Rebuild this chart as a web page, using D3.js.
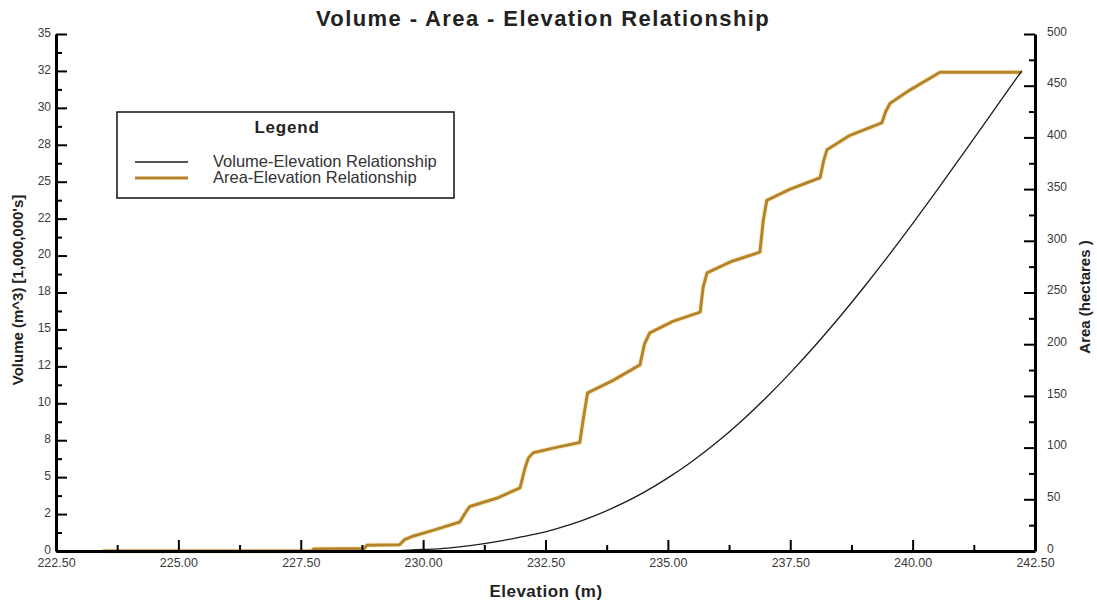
<!DOCTYPE html>
<html>
<head>
<meta charset="utf-8">
<script src="https://cdn.jsdelivr.net/npm/d3@7/dist/d3.min.js"></script>
<style>
  html, body { margin: 0; padding: 0; background: #ffffff; }
  svg { display: block; font-family: "Liberation Sans", Arial, sans-serif; }
</style>
</head>
<body>
<svg id="chart" width="1097" height="604"></svg>
<script>
// Elevation (m) vs stored volume (millions of m^3)
const volumeElevation = [223.45, 228.8, 229.5, 230.0, 230.5, 231.0, 231.5, 232.0, 232.5, 233.0, 233.5, 234.0, 234.5, 235.0, 235.5, 236.0, 236.5, 237.0, 237.5, 238.0, 238.5, 239.0, 239.5, 240.0, 240.5, 241.0, 241.5, 242.0, 242.23];
const volumeValues    = [0,      0,     0.03,  0.1,   0.2,   0.38,  0.63,  0.95,  1.3,   1.78,  2.38,  3.1,   3.95,  4.95,  6.08,  7.36,  8.79,  10.36, 12.06, 13.88, 15.81, 17.84, 19.96, 22.16, 24.43, 26.75, 29.09, 31.44, 32.5];

// Elevation (m) vs surface area (hectares)
const areaElevation = [223.45, 227.72, 227.76, 228.8, 228.85, 229.52, 229.62, 229.77, 230.2, 230.75, 230.85, 230.95, 231.5, 231.98, 232.08, 232.15, 232.25, 232.7, 233.2, 233.28, 233.36, 233.88, 234.43, 234.52, 234.63, 235.1, 235.66, 235.72, 235.8, 236.3, 236.88, 236.95, 237.02, 237.5, 238.11, 238.18, 238.25, 238.72, 239.37, 239.45, 239.54, 239.95, 240.56, 242.23];
const areaValues    = [0,      0,      2,      2.5,   5.5,    6,      11,     14,     20,    28,     36,     43,     51,    61,     80,     90,     95,     100,   105,   130,    153,    165,    180,    200,    211,    222,   231,    255,    269,   280,   289,    320,    339,    350,   361,    377,    388,    402,    414,    425,    433,    446,    463,    463];

// Axis tick values and the labels printed beside them
const elevationTicks = [222.5, 225, 227.5, 230, 232.5, 235, 237.5, 240, 242.5];
const elevationMinor = [223.75, 226.25, 228.75, 231.25, 233.75, 236.25, 238.75, 241.25];
const volumeTicks = [0, 2.5, 5, 7.5, 10, 12.5, 15, 17.5, 20, 22.5, 25, 27.5, 30, 32.5, 35];
const volumeTickLabels = ["0", "2", "5", "8", "10", "12", "15", "18", "20", "22", "25", "28", "30", "32", "35"];
const volumeMinor = [1.25, 3.75, 6.25, 8.75, 11.25, 13.75, 16.25, 18.75, 21.25, 23.75, 26.25, 28.75, 31.25, 33.75];
const areaTicks = [0, 50, 100, 150, 200, 250, 300, 350, 400, 450, 500];
const areaMinor = [25, 75, 125, 175, 225, 275, 325, 375, 425, 475];

const seriesNames = ["Volume-Elevation Relationship", "Area-Elevation Relationship"];
const seriesColors = ["#1c1c1c", "#b5842a"];

const svg = d3.select("#chart");
const plotLeft = 56, plotRight = 1035, plotTop = 34, plotBottom = 551;

const x = d3.scaleLinear().domain([222.5, 242.5]).range([plotLeft, plotRight]);
const yVol = d3.scaleLinear().domain([0, 35]).range([plotBottom, plotTop]);
const yArea = d3.scaleLinear().domain([0, 500]).range([plotBottom, plotTop]);

// Title
svg.append("text")
  .attr("x", 543).attr("y", 26)
  .attr("text-anchor", "middle")
  .attr("font-size", 22).attr("font-weight", "bold").attr("fill", "#222")
  .attr("letter-spacing", 1.4)
  .text("Volume - Area - Elevation Relationship");

// Series lines
const volData = volumeElevation.map((e, i) => [e, volumeValues[i]]);
const areaData = areaElevation.map((e, i) => [e, areaValues[i]]);

const areaLine = d3.line().x(d => x(d[0])).y(d => yArea(d[1]));
const volLine = d3.line().x(d => x(d[0])).y(d => yVol(d[1])).curve(d3.curveMonotoneX);

svg.append("path").datum(areaData)
  .attr("d", areaLine).attr("fill", "none")
  .attr("stroke", "#f2d68c").attr("stroke-width", 5).attr("stroke-opacity", 0.45)
  .attr("stroke-linejoin", "round");
svg.append("path").datum(areaData)
  .attr("d", areaLine).attr("fill", "none")
  .attr("stroke", seriesColors[1]).attr("stroke-width", 3)
  .attr("stroke-linejoin", "round");
svg.append("path").datum(volData)
  .attr("d", volLine).attr("fill", "none")
  .attr("stroke", seriesColors[0]).attr("stroke-width", 1.3);

// Axes
function styleAxis(g) {
  g.select(".domain").attr("stroke", "#000").attr("stroke-width", 3);
  g.selectAll(".tick line").attr("stroke", "#000").attr("stroke-width", 2);
  g.selectAll(".tick text").attr("fill", "#3a3a3a").attr("font-size", 12);
}
function styleMinor(g) {
  g.select(".domain").remove();
  g.selectAll("line").attr("stroke", "#000").attr("stroke-width", 2);
}

// Bottom (elevation)
const gx = svg.append("g").attr("transform", `translate(0,${plotBottom})`)
  .call(d3.axisBottom(x).tickValues(elevationTicks).tickFormat(d3.format(".2f"))
    .tickSizeInner(-11).tickSizeOuter(0).tickPadding(7));
styleAxis(gx);
gx.selectAll(".tick text").attr("font-size", 12.5);
svg.append("g").attr("transform", `translate(0,${plotBottom})`)
  .call(d3.axisBottom(x).tickValues(elevationMinor).tickFormat("")
    .tickSizeInner(-6).tickSizeOuter(0))
  .call(styleMinor);

// Left (volume)
const gl = svg.append("g").attr("transform", `translate(${plotLeft},0)`)
  .call(d3.axisLeft(yVol).tickValues(volumeTicks).tickFormat((d, i) => volumeTickLabels[i])
    .tickSizeInner(-11).tickSizeOuter(0).tickPadding(5));
styleAxis(gl);
gl.selectAll(".tick text").attr("dy", "0.2em");
svg.append("g").attr("transform", `translate(${plotLeft},0)`)
  .call(d3.axisLeft(yVol).tickValues(volumeMinor).tickFormat("")
    .tickSizeInner(-6).tickSizeOuter(0))
  .call(styleMinor);

// Right (area)
const gr = svg.append("g").attr("transform", `translate(${plotRight},0)`)
  .call(d3.axisRight(yArea).tickValues(areaTicks).tickFormat(d3.format("d"))
    .tickSizeInner(-11).tickSizeOuter(0).tickPadding(12));
styleAxis(gr);
gr.selectAll(".tick text").attr("dy", "0.1em");
svg.append("g").attr("transform", `translate(${plotRight},0)`)
  .call(d3.axisRight(yArea).tickValues(areaMinor).tickFormat("")
    .tickSizeInner(-6).tickSizeOuter(0))
  .call(styleMinor);

// Axis titles
svg.append("text")
  .attr("transform", "translate(23,290) rotate(-90)")
  .attr("text-anchor", "middle").attr("font-size", 15).attr("font-weight", "bold").attr("fill", "#222")
  .text("Volume (m^3) [1,000,000's]");
svg.append("text")
  .attr("transform", "translate(1090,297) rotate(-90)")
  .attr("text-anchor", "middle").attr("font-size", 15).attr("font-weight", "bold").attr("fill", "#222")
  .text("Area (hectares )");
svg.append("text")
  .attr("x", 546).attr("y", 597)
  .attr("text-anchor", "middle").attr("font-size", 17).attr("font-weight", "bold").attr("fill", "#222")
  .attr("letter-spacing", 0.5)
  .text("Elevation (m)");

// Legend
const lg = svg.append("g");
lg.append("rect")
  .attr("x", 117).attr("y", 112).attr("width", 337).attr("height", 86)
  .attr("fill", "#fff").attr("stroke", "#111").attr("stroke-width", 1.5);
lg.append("text")
  .attr("x", 287).attr("y", 133)
  .attr("text-anchor", "middle").attr("font-size", 17).attr("font-weight", "bold").attr("fill", "#222")
  .attr("letter-spacing", 0.8)
  .text("Legend");
seriesNames.forEach((name, i) => {
  const yy = 162 + i * 16;
  lg.append("line")
    .attr("x1", 135).attr("x2", 188).attr("y1", yy).attr("y2", yy)
    .attr("stroke", seriesColors[i]).attr("stroke-width", i === 0 ? 1.3 : 3);
  lg.append("text")
    .attr("x", 213).attr("y", yy + 5)
    .attr("font-size", 16.5).attr("fill", "#333")
    .text(name);
});
</script>
</body>
</html>
